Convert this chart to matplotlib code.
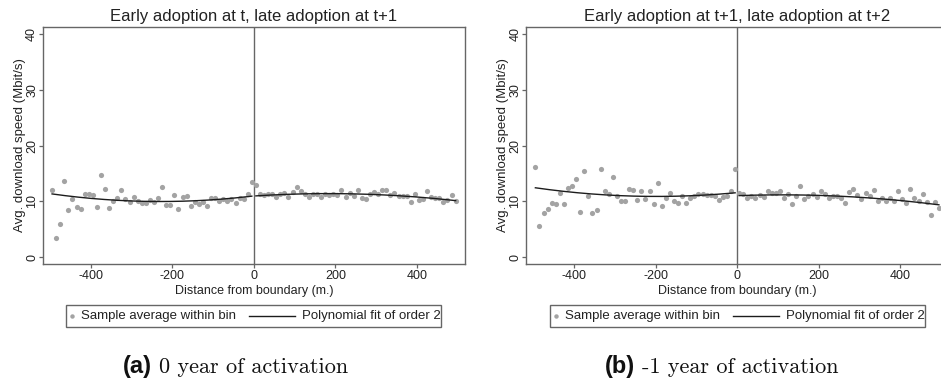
import numpy as np
import matplotlib
matplotlib.use("Agg")
import matplotlib.pyplot as plt
from matplotlib.lines import Line2D
from matplotlib.patches import Rectangle

# Bin centres (metres from the boundary), 10 m bins on each side
bins_left = np.arange(-495, 0, 10)
bins_right = np.arange(5, 500, 10)

# Panel (a): early adoption at t, late adoption at t+1 -- bin means (Mbit/s)
speed_a_left = [12.0, 3.4, 6.0, 13.6, 8.4, 10.5, 9.0, 8.6, 11.3, 11.4,
                11.1, 9.0, 14.8, 12.2, 8.9, 10.0, 10.7, 12.0, 10.4, 9.9,
                10.8, 10.1, 9.7, 9.8, 10.2, 9.9, 10.7, 12.6, 9.3, 9.3,
                11.2, 8.7, 10.8, 11.0, 9.2, 9.9, 9.5, 9.9, 9.2, 10.7,
                10.7, 10.1, 10.5, 10.1, 10.4, 9.8, 10.7, 10.5, 11.3, 13.4]
speed_a_right = [12.9, 11.4, 11.1, 11.3, 11.4, 10.8, 11.3, 11.5, 10.8, 11.7,
                 12.6, 11.8, 11.3, 10.8, 11.4, 11.3, 10.8, 11.4, 11.1, 11.4,
                 11.1, 12.0, 10.8, 11.6, 11.0, 12.0, 10.7, 10.5, 11.3, 11.7,
                 11.3, 12.0, 12.0, 11.2, 11.6, 11.0, 11.0, 10.9, 9.9, 11.3,
                 10.2, 10.5, 11.9, 10.8, 10.6, 10.7, 9.9, 10.2, 11.1, 10.1]

# Panel (b): early adoption at t+1, late adoption at t+2 -- bin means (Mbit/s)
speed_b_left = [16.1, 5.6, 7.9, 8.7, 9.7, 9.5, 11.6, 9.6, 12.5, 12.7,
                14.0, 8.2, 15.5, 10.9, 7.9, 8.4, 15.9, 11.9, 11.4, 14.4,
                11.0, 10.1, 10.1, 12.3, 12.1, 10.3, 11.8, 10.5, 11.8, 9.5,
                13.3, 9.2, 10.7, 11.5, 10.1, 9.7, 10.9, 9.8, 10.7, 11.0,
                11.3, 11.4, 11.2, 11.1, 10.9, 10.2, 10.8, 11.0, 11.8, 15.8]
speed_b_right = [11.5, 11.4, 10.6, 10.9, 10.6, 11.2, 10.8, 11.8, 11.5, 11.5,
                 11.9, 10.7, 11.4, 9.5, 10.9, 12.7, 10.5, 10.9, 11.4, 10.8,
                 11.9, 11.4, 10.7, 10.9, 10.9, 10.6, 9.8, 11.7, 12.2, 11.2,
                 10.5, 11.5, 10.9, 12.0, 10.1, 10.7, 10.0, 10.7, 10.0, 11.9,
                 10.4, 9.8, 12.2, 10.6, 10.0, 11.3, 9.9, 7.6, 9.9, 8.9]

# Second-order polynomial fits, given by their value at three distances
fit_x_left = [-495, -250, -5]
fit_x_right = [5, 250, 495]
fit_a_left = [11.35, 10.0, 10.95]
fit_a_right = [11.0, 11.35, 10.15]
fit_b_left = [12.45, 10.95, 11.55]
fit_b_right = [11.05, 10.95, 9.4]

titles = ["Early adoption at t, late adoption at t+1",
          "Early adoption at t+1, late adoption at t+2"]
caption_tags = ["(a)", "(b)"]
caption_texts = ["0 year of activation", "-1 year of activation"]
y_ticks = [0, 10, 20, 30, 40]
x_ticks = [-400, -200, 0, 200, 400]
legend_labels = ["Sample average within bin", "Polynomial fit of order 2"]

W, H = 941, 380
DOT = "#a3a3a3"
FRAME = "#666666"
TXT = "#222222"
SANS = ["Liberation Sans", "DejaVu Sans"]
plt.rcParams["font.family"] = SANS
plt.rcParams["axes.unicode_minus"] = False

fig = plt.figure(figsize=(W / 100, H / 100), dpi=100)


def fx(px):
    return px / W


def fy(py):
    return 1 - py / H


def quad_curve(knots_x, knots_y):
    coef = np.polyfit(knots_x, knots_y, 2)
    xs = np.linspace(knots_x[0], knots_x[-1], 200)
    return xs, np.polyval(coef, xs)


panels = [
    (speed_a_left, speed_a_right, fit_a_left, fit_a_right, 42.7),
    (speed_b_left, speed_b_right, fit_b_left, fit_b_right, 526.0),
]
ax_w, ax_top, ax_bot = 422.3, 26.7, 264.0

for i, (yl, yr, fl, fr, left_px) in enumerate(panels):
    ax = fig.add_axes([fx(left_px), fy(ax_bot), fx(ax_w), (ax_bot - ax_top) / H])
    ax.set_xlim(-518, 518)
    ax.set_ylim(-1.2, 41.3)
    for bx, by, kx, ky in ((bins_left, yl, fit_x_left, fl),
                           (bins_right, yr, fit_x_right, fr)):
        ax.scatter(bx, by, s=14, color=DOT, linewidths=0, zorder=3)
        xs, ys = quad_curve(kx, ky)
        ax.plot(xs, ys, color="#1c1c1c", lw=1.0, zorder=4)
    ax.axvline(0, color=FRAME, lw=1.0, zorder=2)
    for sp in ax.spines.values():
        sp.set_color(FRAME)
        sp.set_linewidth(1.0)
    ax.set_xticks(x_ticks)
    ax.set_yticks(y_ticks)
    ax.tick_params(axis="both", colors=FRAME, length=3, width=0.9,
                   labelcolor=TXT, labelsize=9, pad=1.5)
    ax.tick_params(axis="y", pad=0.3)
    for lab in ax.get_yticklabels():
        lab.set_rotation(90)
        lab.set_va("center")
    ax.set_title(titles[i], fontsize=12, color=TXT, pad=4)
    ax.set_xlabel("Distance from boundary (m.)", fontsize=9,
                  color=TXT, labelpad=2)
    ax.set_ylabel("Avg. download speed (Mbit/s)", fontsize=9.5, color=TXT)
    ax.yaxis.set_label_coords(-0.040, 0.5)

    # legend box under the axes
    cx = left_px + ax_w / 2
    bx0, bx1 = cx - 187.5, cx + 187.5
    by0, by1 = 305.0, 327.0
    fig.patches.append(Rectangle((fx(bx0), fy(by1)), fx(bx1 - bx0),
                                 (by1 - by0) / H, transform=fig.transFigure,
                                 fill=False, edgecolor=FRAME, lw=1.0))
    ymid = fy((by0 + by1) / 2)
    fig.lines.append(Line2D([fx(bx0 + 6)], [ymid], marker="o", ms=3.2,
                            color=DOT, mec="none", lw=0,
                            transform=fig.transFigure))
    fig.text(fx(bx0 + 15), ymid, legend_labels[0], fontsize=9.5,
             color=TXT, va="center", ha="left")
    fig.lines.append(Line2D([fx(bx0 + 183), fx(bx0 + 229)], [ymid, ymid],
                            color="#1c1c1c", lw=1.0,
                            transform=fig.transFigure))
    fig.text(fx(bx0 + 236), ymid, legend_labels[1], fontsize=9.5,
             color=TXT, va="center", ha="left")

    # caption below each panel
    split = left_px + 112
    fig.text(fx(split - 3), fy(373), caption_tags[i], fontsize=17,
             fontweight="bold", color="#111111", ha="right", va="baseline")
    fig.text(fx(split + 4), fy(373), caption_texts[i], fontsize=16,
             family=["cmr10", "DejaVu Serif"], color="#111111",
             ha="left", va="baseline")

fig.savefig("out.png", dpi=100)
